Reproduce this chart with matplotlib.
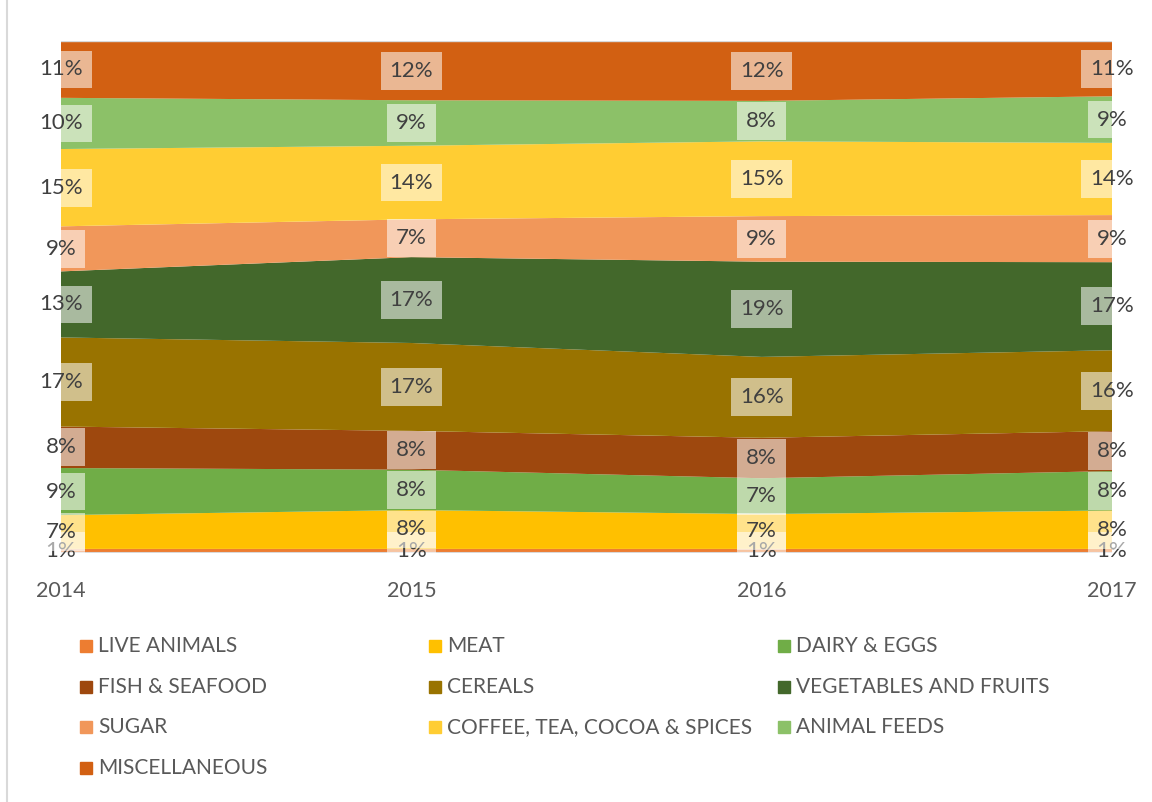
import matplotlib.pyplot as plt
from matplotlib.patches import Rectangle
import numpy as np

plt.rcParams['font.family'] = ['Lato', 'DejaVu Sans']

years = ["2014", "2015", "2016", "2017"]
categories = ["LIVE ANIMALS", "MEAT", "DAIRY & EGGS", "FISH & SEAFOOD", "CEREALS",
              "VEGETABLES AND FRUITS", "SUGAR", "COFFEE, TEA, COCOA & SPICES",
              "ANIMAL FEEDS", "MISCELLANEOUS"]
colors = ["#ED7D31", "#FFC000", "#70AD47", "#9E480E", "#997300",
          "#43682B", "#F1975A", "#FFCD33", "#8CC168", "#D26012"]

# shares in percent, one list per category (2014..2017)
live_animals = [0.8, 0.8, 0.8, 0.8]
meat = [6.6, 7.6, 6.8, 7.5]
dairy_eggs = [9.2, 7.9, 7.0, 7.7]
fish_seafood = [8.1, 7.6, 7.9, 7.8]
cereals = [17.4, 17.2, 15.8, 15.8]
veg_fruits = [12.9, 16.8, 18.6, 17.2]
sugar = [8.8, 7.4, 8.9, 9.2]
coffee_tea = [15.1, 14.4, 14.6, 14.1]
animal_feeds = [10.0, 8.9, 7.9, 9.1]
misc = [11.1, 11.6, 11.7, 10.8]

data = np.array([live_animals, meat, dairy_eggs, fish_seafood, cereals,
                 veg_fruits, sugar, coffee_tea, animal_feeds, misc])
shares = data / data.sum(axis=0)

fig = plt.figure(figsize=(11.52, 8.02), dpi=100)
ax = fig.add_axes([61/1152, 1 - 553/802, (1112 - 61)/1152, (553 - 41)/802])

x = np.arange(len(years))
ax.stackplot(x, shares, colors=colors, linewidth=0)
ax.set_xlim(0, 3)
ax.set_ylim(0, 1)
ax.axhline(1, color="#D9D9D9", lw=1, zorder=3)
ax.axhline(0, color="#D9D9D9", lw=1.5, zorder=3)
for s in ax.spines.values():
    s.set_visible(False)
ax.set_yticks([])
ax.set_xticks(x)
ax.set_xticklabels(years, fontsize=15.5, color="#595959")
ax.tick_params(axis="x", length=0, pad=20)

# data labels
cum = np.cumsum(shares, axis=0)
for i in range(len(categories)):
    for j in range(len(years)):
        mid = cum[i, j] - shares[i, j] / 2
        ax.text(x[j], mid, "%d%%" % round(data[i, j] * 100 / data[:, j].sum()),
                ha="center", va="center", fontsize=16, color="#404040",
                zorder=5, clip_on=False,
                bbox=dict(boxstyle="square,pad=0.4", fc="white", ec="none", alpha=0.55))

# legend laid out in rows like the original
legend_cols = [80, 429, 778]
legend_rows = [646, 687, 727, 768]
for k, (name, c) in enumerate(zip(categories, colors)):
    px = legend_cols[k % 3]
    py = legend_rows[k // 3]
    fig.patches.append(Rectangle((px/1152, 1 - (py + 6)/802), 12/1152, 12/802,
                                 transform=fig.transFigure, color=c))
    fig.text((px + 18)/1152, 1 - py/802, name, fontsize=15, color="#595959",
             ha="left", va="center")

fig.add_artist(plt.Line2D([7/1152, 7/1152], [0, 1], color="#D9D9D9", lw=1.5))

fig.savefig("out.png", dpi=100)
